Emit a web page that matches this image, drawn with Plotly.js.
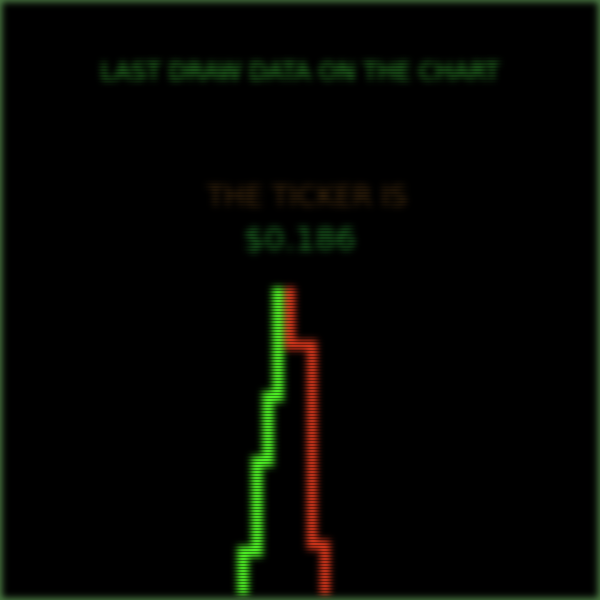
<!DOCTYPE html>
<html><head><meta charset="utf-8">
<script src="https://cdn.plot.ly/plotly-3.0.1.min.js"></script>
<style>
html,body{margin:0;padding:0;background:#000;width:600px;height:600px;overflow:hidden}
#wrap{position:relative;width:600px;height:600px;background:#000}
#chart{width:600px;height:600px;filter:blur(3.8px)}
#scan{position:absolute;left:0;top:0;width:600px;height:600px;pointer-events:none;
 background:repeating-linear-gradient(to bottom,rgba(0,0,0,0) 0px,rgba(0,0,0,0) 2px,rgba(0,0,0,0.4) 2px,rgba(0,0,0,0.4) 3px);
 box-shadow:inset 0 0 7px 2px rgba(100,160,90,0.8);}
</style></head>
<body><div id="wrap"><div id="chart"></div><div id="scan"></div></div>
<script>
// Order-book depth (price vs cumulative volume)
const titleText = "LAST DRAW DATA ON THE CHART";
const tickerLabel = "THE TICKER IS";
const tickerValue = "$0.186";
const bidPrices = [0.1857, 0.1852, 0.18465, 0.18395, 0.18395];
const bidDepth  = [0, 11300, 18000, 27300, 32000];
const askPrices = [0.1863, 0.1874, 0.18805, 0.18805];
const askDepth  = [0, 6000, 26600, 32000];

const traces = [
  {x: askPrices, y: askDepth, type: 'scatter', mode: 'lines',
   line: {shape: 'vh', color: '#dc381c', width: 10}, hoverinfo: 'skip'},
  {x: bidPrices, y: bidDepth, type: 'scatter', mode: 'lines',
   line: {shape: 'vh', color: '#50f826', width: 11}, hoverinfo: 'skip'}
];
const layout = {
  width: 600, height: 600,
  paper_bgcolor: '#000', plot_bgcolor: '#000',
  margin: {l: 0, r: 0, t: 287, b: 5},
  showlegend: false,
  title: {text: titleText, x: 0.5, xanchor: 'center', y: 0.88, yanchor: 'middle',
          font: {family: 'DejaVu Sans', size: 24, color: '#36aa32'}},
  xaxis: {range: [0.1718, 0.2018], visible: false, fixedrange: true},
  yaxis: {range: [31800, 0], visible: false, fixedrange: true},
  annotations: [
    {text: tickerLabel, xref: 'paper', yref: 'paper', x: 0.51, y: 1.294, showarrow: false,
     xanchor: 'center', yanchor: 'middle', font: {family: 'DejaVu Sans', size: 28, color: '#4e3210'}},
    {text: tickerValue, xref: 'paper', yref: 'paper', x: 0.5, y: 1.157, showarrow: false,
     xanchor: 'center', yanchor: 'middle', font: {family: 'DejaVu Sans', size: 32, color: '#25862c'}}
  ]
};
Plotly.newPlot('chart', traces, layout, {staticPlot: true, displayModeBar: false});
</script></body></html>
